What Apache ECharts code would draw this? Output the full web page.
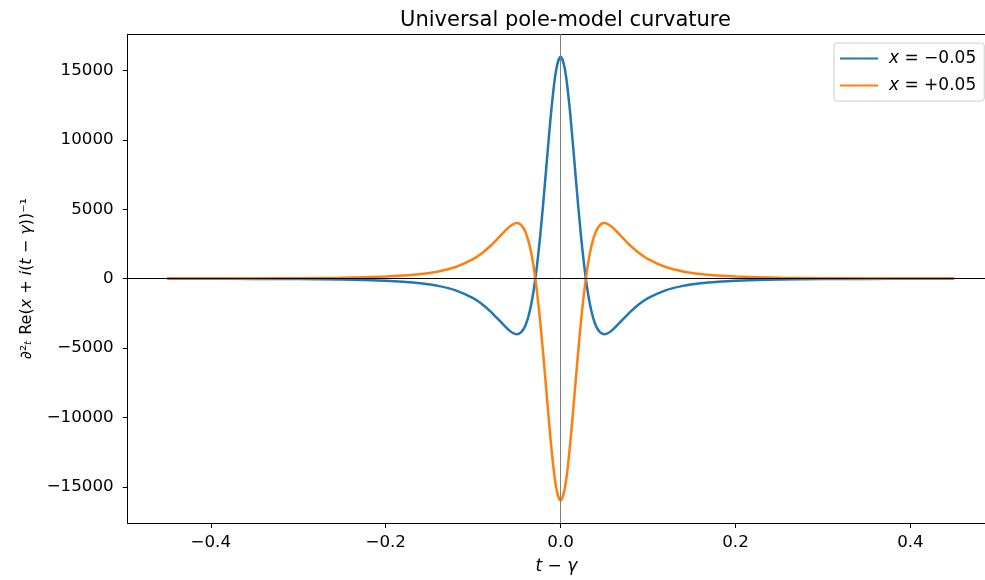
<!DOCTYPE html>
<html><head><meta charset="utf-8">
<script src="https://cdn.jsdelivr.net/npm/echarts@6/dist/echarts.min.js"></script>
<style>html,body{margin:0;padding:0;background:#fff}#c{width:985px;height:580px}</style>
</head><body><div id="c"></div>
<script>
var tValues = [-0.45,-0.4,-0.35,-0.3,-0.25,-0.2,-0.18,-0.16,-0.14,-0.12,-0.1,-0.09,-0.08,-0.07,-0.06,-0.055,-0.05,-0.045,-0.04,-0.035,-0.03,-0.025,-0.02,-0.015,-0.01,-0.005,0,
  0.005,0.01,0.015,0.02,0.025,0.03,0.035,0.04,0.045,0.05,0.055,0.06,0.07,0.08,0.09,0.1,0.12,0.14,0.16,0.18,0.2,0.25,0.3,0.35,0.4,0.45];
var blueValues = [-7,-11,-19,-34,-67,-153,-223,-335,-522,-843,-1408,-1830,-2369,-3011,-3657,-3898,-4000,-3859,-3337,-2273,-509,2048,5330,9019,12517,15064,16000,
  15064,12517,9019,5330,2048,-509,-2273,-3337,-3859,-4000,-3898,-3657,-3011,-2369,-1830,-1408,-843,-522,-335,-223,-153,-67,-34,-19,-11,-7];
var orangeValues = [7,11,19,34,67,153,223,335,522,843,1408,1830,2369,3011,3657,3898,4000,3859,3337,2273,509,-2048,-5330,-9019,-12517,-15064,-16000,
  -15064,-12517,-9019,-5330,-2048,509,2273,3337,3859,4000,3898,3657,3011,2369,1830,1408,843,522,335,223,153,67,34,19,11,7];
var seriesNames = ['x = −0.05', 'x = +0.05'];
var xTicks = [-0.4,-0.2,0,0.2,0.4];
var yTicks = [-15000,-10000,-5000,0,5000,10000,15000];

function pairs(ys){ return tValues.map(function(t,i){ return [t, ys[i]]; }); }
var font = 'DejaVu Sans';
var chart = echarts.init(document.getElementById('c'), null, {renderer:'canvas'});
chart.setOption({
  animation:false,
  backgroundColor:'#fff',
  title:{ text:'Universal pole-model curvature', left:560.5, textAlign:'center', top:5,
    textStyle:{ fontFamily:font, fontSize:21, fontWeight:'normal', color:'#000' } },
  grid:{ left:127.7, right:0, top:34.3, bottom:56.7, show:false, containLabel:false },
  legend:{ orient:'vertical', left:834, top:43, padding:[7,8,7,6], icon:'rect', itemWidth:38, itemHeight:2.2, itemGap:10,
    borderColor:'#cccccc', borderWidth:1, borderRadius:3, backgroundColor:'rgba(255,255,255,0.8)',
    formatter:function(n){ return '{i|x} ' + n.slice(2); },
    textStyle:{ fontFamily:font, fontSize:17, color:'#000', padding:[0,0,0,6],
      rich:{ i:{ fontFamily:font, fontSize:17, fontStyle:'italic', color:'#000' } } },
    data:seriesNames },
  xAxis:[{ type:'value', min:-0.495, max:0.4853,
    name:'{i|t} − {i|γ}', nameLocation:'middle', nameGap:35,
    nameTextStyle:{ fontFamily:font, fontSize:17, color:'#000', rich:{ i:{ fontFamily:font, fontSize:17, fontStyle:'italic', color:'#000' } } },
    axisLine:{ onZero:false, lineStyle:{ color:'#000', width:1 } },
    axisTick:{ show:true, inside:false, length:5, customValues:xTicks, lineStyle:{ color:'#000' } },
    axisLabel:{ customValues:xTicks, margin:11, fontFamily:font, fontSize:16.7, color:'#000',
      formatter:function(v){ return v.toFixed(1).replace('-', '−'); } },
    splitLine:{ show:false } },
    { type:'value', position:'top', min:-0.495, max:0.4853,
      axisLine:{ show:true, onZero:false, lineStyle:{ color:'#000', width:1 } },
      axisTick:{ show:false }, axisLabel:{ show:false }, splitLine:{ show:false } }],
  yAxis:{ type:'value', min:-17600, max:17600,
    name:'∂{s|²}{sb|ₜ} Re({i|x} + {i|i}({i|t} − {i|γ}))⁻¹', nameLocation:'middle', nameGap:93, nameRotate:90,
    nameTextStyle:{ fontFamily:font, fontSize:16, color:'#000',
      rich:{ i:{ fontFamily:font, fontSize:16, fontStyle:'italic', color:'#000' },
             s:{ fontFamily:font, fontSize:16, color:'#000' },
             sb:{ fontFamily:font, fontSize:16, fontStyle:'italic', color:'#000' } } },
    axisLine:{ show:true, onZero:false, lineStyle:{ color:'#000', width:1 } },
    axisTick:{ show:true, inside:false, length:5, customValues:yTicks, lineStyle:{ color:'#000' } },
    axisLabel:{ customValues:yTicks, margin:14, fontFamily:font, fontSize:16.7, color:'#000',
      formatter:function(v){ return String(v).replace('-', '−'); } },
    splitLine:{ show:false } },
  series:[
    { name:seriesNames[0], type:'line', data:pairs(blueValues), showSymbol:false, symbol:'none', smooth:0.3,
      lineStyle:{ color:'#1f77b4', width:2.5 }, itemStyle:{ color:'#1f77b4' }, z:3,
      markLine:{ silent:true, symbol:'none', label:{show:false}, animation:false,
        data:[ { xAxis:0, lineStyle:{ color:'#808080', width:1, type:'solid' } },
               { yAxis:0, lineStyle:{ color:'#000', width:1, type:'solid' } } ] } },
    { name:seriesNames[1], type:'line', data:pairs(orangeValues), showSymbol:false, symbol:'none', smooth:0.3,
      lineStyle:{ color:'#ff7f0e', width:2.5 }, itemStyle:{ color:'#ff7f0e' }, z:4 }
  ]
});
</script></body></html>
